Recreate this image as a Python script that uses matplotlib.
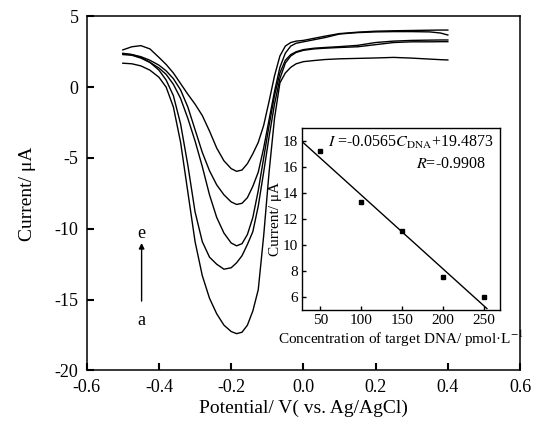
import matplotlib
matplotlib.use("Agg")
import matplotlib.pyplot as plt

plt.rcParams["font.family"] = ["Liberation Serif", "DejaVu Serif"]
plt.rcParams["mathtext.fontset"] = "stix"

# Potential (V) sampled along the DPV curves
potential = [-0.50, -0.475, -0.45, -0.425, -0.40, -0.38, -0.36, -0.34, -0.32, -0.30,
             -0.28, -0.26, -0.24, -0.22, -0.20, -0.185, -0.17, -0.155, -0.14, -0.125,
             -0.11, -0.095, -0.08, -0.065, -0.05, -0.035, -0.02, 0.0, 0.03, 0.06,
             0.10, 0.15, 0.20, 0.25, 0.30, 0.35, 0.38, 0.40]

# Current (uA) for curves a..e
curve_a = [1.69, 1.65, 1.5, 1.2, 0.7, 0.0, -1.4, -3.9, -7.4, -10.9,
           -13.3, -14.9, -16.0, -16.8, -17.25, -17.4, -17.3, -16.8, -15.8, -14.3,
           -10.5, -6.0, -2.2, 0.3, 1.0, 1.4, 1.65, 1.8, 1.88, 1.95,
           2.0, 2.03, 2.06, 2.1, 2.05, 1.98, 1.94, 1.92]
curve_b = [2.39, 2.3, 2.1, 1.75, 1.2, 0.5, -0.6, -2.6, -5.5, -8.8,
           -10.9, -12.0, -12.5, -12.85, -12.75, -12.4, -11.9, -11.1, -10.2, -8.4,
           -6.0, -3.5, -1.2, 0.6, 1.7, 2.2, 2.45, 2.6, 2.7, 2.75,
           2.8, 2.85, 3.0, 3.15, 3.2, 3.2, 3.21, 3.21]
curve_c = [2.30, 2.25, 2.05, 1.75, 1.35, 0.9, 0.2, -0.8, -2.2, -3.8,
           -5.6, -7.6, -9.2, -10.3, -11.0, -11.2, -11.05, -10.4, -9.2, -7.3,
           -5.0, -2.7, -0.6, 1.0, 1.9, 2.3, 2.5, 2.65, 2.75, 2.8,
           2.86, 2.95, 3.15, 3.25, 3.3, 3.32, 3.33, 3.33]
curve_d = [2.35, 2.3, 2.15, 1.9, 1.55, 1.15, 0.6, -0.2, -1.4, -3.0,
           -4.6, -5.9, -6.9, -7.6, -8.1, -8.28, -8.2, -7.8, -7.0, -6.0,
           -4.3, -2.3, -0.3, 1.4, 2.4, 2.9, 3.1, 3.2, 3.35, 3.5,
           3.75, 3.85, 3.9, 3.92, 3.92, 3.9, 3.82, 3.68]
curve_e = [2.63, 2.85, 2.93, 2.7, 2.1, 1.6, 1.0, 0.25, -0.5, -1.2,
           -2.0, -3.1, -4.3, -5.2, -5.75, -5.94, -5.85, -5.4, -4.7, -3.9,
           -2.7, -1.0, 0.8, 2.2, 2.9, 3.15, 3.25, 3.3, 3.45, 3.6,
           3.78, 3.88, 3.95, 3.98, 4.0, 4.02, 4.03, 4.03]
curves = [curve_a, curve_b, curve_c, curve_d, curve_e]

# Inset calibration data
conc = [50, 100, 150, 200, 250]
peak_current = [17.2, 13.3, 11.05, 7.55, 6.0]
slope, intercept = -0.0565, 19.4873
fit_x = [27, 254]

fig = plt.figure(figsize=(5.44, 4.26), dpi=100)
ax = fig.add_axes([0.1594, 0.1303, 0.7966, 0.8314])
for ys in curves:
    ax.plot(potential, ys, color="black", lw=1.0)

ax.set_xlim(-0.6, 0.6)
ax.set_ylim(-20, 5)
ax.set_xticks([-0.6, -0.4, -0.2, 0.0, 0.2, 0.4, 0.6])
ax.set_xticklabels(["-0.6", "-0.4", "-0.2", "0.0", "0.2", "0.4", "0.6"])
ax.set_yticks([5, 0, -5, -10, -15, -20])
ax.set_yticklabels(["5", "0", "-5", "-10", "-15", "-20"])
ax.tick_params(direction="in", length=5, width=1.5, labelsize=13, pad=6)
for s in ax.spines.values():
    s.set_linewidth(1.1)
ax.set_xlabel("Potential/ V( vs. Ag/AgCl)", fontsize=14, labelpad=3)
ax.set_ylabel("Current/ μA", fontsize=14, labelpad=13)

ax.annotate("", xy=(-0.448, -11.0), xytext=(-0.448, -15.1),
            arrowprops=dict(arrowstyle="-|>", color="black", lw=1.0,
                            mutation_scale=8, shrinkA=0, shrinkB=0))
ax.text(-0.448, -10.3, "e", fontsize=13, ha="center", va="center")
ax.text(-0.448, -16.5, "a", fontsize=13, ha="center", va="center")

# inset
ins = fig.add_axes([0.5546, 0.273, 0.3645, 0.4272])
ins.plot(conc, peak_current, "s", color="black", ms=3.2)
fx = [fit_x[0], fit_x[1]]
fy = [slope * v + intercept for v in fx]
ins.plot(fx, fy, color="black", lw=1.0)
ins.set_xlim(27, 270)
ins.set_ylim(5.05, 19)
ins.set_xticks(conc)
ins.set_yticks([6, 8, 10, 12, 14, 16, 18])
ins.tick_params(direction="in", length=3, width=1.0, labelsize=11, pad=3)
for s in ins.spines.values():
    s.set_linewidth(1.0)
ins.set_xlabel("Concentration of target DNA/ pmol·L$^{-1}$", fontsize=11, labelpad=1)
ins.set_ylabel("Current/ μA", fontsize=11, labelpad=0)
ins.text(0.97, 0.92, "$I$ =-0.0565$C_{\\mathrm{DNA}}$+19.4873", transform=ins.transAxes,
         fontsize=11.5, ha="right", va="center")
ins.text(0.93, 0.80, "$R$=-0.9908", transform=ins.transAxes,
         fontsize=11.5, ha="right", va="center")

fig.savefig("out.png", dpi=100)
